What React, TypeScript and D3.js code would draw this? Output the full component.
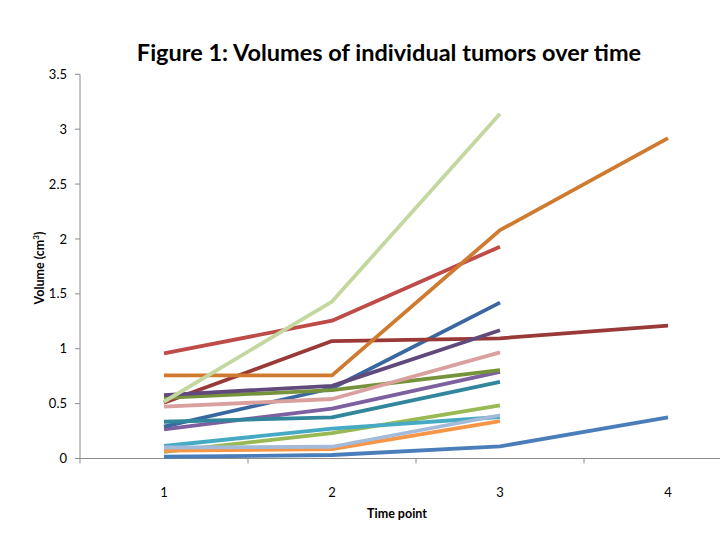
import React from 'react';
import * as d3 from 'd3';

const timePoints = [1, 2, 3, 4];
const yTicks = [0, 0.5, 1, 1.5, 2, 2.5, 3, 3.5];

// Volumes per tumor (cm³), one entry per time point measured
const tumor01 = [0.016, 0.032, 0.11, 0.375];
const tumor02 = [0.958, 1.255, 1.93];
const tumor03 = [0.06, 0.232, 0.485];
const tumor04 = [0.266, 0.455, 0.79];
const tumor05 = [0.114, 0.272, 0.378];
const tumor06 = [0.071, 0.086, 0.34];
const tumor07 = [0.29, 0.64, 1.42];
const tumor08 = [0.508, 1.07, 1.095, 1.21];
const tumor09 = [0.552, 0.622, 0.806];
const tumor10 = [0.578, 0.662, 1.168];
const tumor11 = [0.335, 0.374, 0.698];
const tumor12 = [0.758, 0.757, 2.08, 2.918];
const tumor13 = [0.1, 0.107, 0.394];
const tumor14 = [0.472, 0.542, 0.967];
const tumor15 = [0.517, 1.43, 3.14];

const seriesValues = [
  tumor01, tumor02, tumor03, tumor04, tumor05, tumor06, tumor07, tumor08,
  tumor09, tumor10, tumor11, tumor12, tumor13, tumor14, tumor15,
];

const seriesColors = [
  '#4a7ebb', '#be4b48', '#98b954', '#7d60a0', '#46aac5', '#f79646',
  '#3b67a0', '#9a3a38', '#76933c', '#604a7b', '#31869b', '#d07a2f',
  '#a3bbd9', '#d9a09e', '#c4d79f',
];

const W = 720;
const H = 540;
const font = 'Lato, "Open Sans", sans-serif';
const axisColor = '#8c8c8c';

export default function App() {
  const x = d3.scaleLinear().domain([0.5, 4.5]).range([80, 752]);
  const y = d3.scaleLinear().domain([0, 3.5]).range([458.5, 74.3]);

  const line = d3.line<number>()
    .x((_, i) => x(timePoints[i]))
    .y(d => y(d));

  // category boundaries get the tick marks (Excel style)
  const catEdges = [0.5, 1.5, 2.5, 3.5, 4.5];

  return (
    <svg
      width={W}
      height={H}
      style={{ position: 'absolute', left: 0, top: 0, background: '#fff', overflow: 'hidden' }}
    >
      <text
        x={389}
        y={61}
        textAnchor="middle"
        fontFamily={font}
        fontWeight="bold"
        fontSize={23.5}
        fill="#000"
      >
        Figure 1: Volumes of individual tumors over time
      </text>

      {/* y axis */}
      <line x1={80} x2={80} y1={y(3.5)} y2={y(0)} stroke={axisColor} strokeWidth={1} />
      {yTicks.map(t => (
        <g key={t}>
          <line x1={75} x2={80} y1={y(t)} y2={y(t)} stroke={axisColor} />
          <text
            x={67}
            y={y(t)}
            dy="0.35em"
            textAnchor="end"
            fontFamily={font}
            fontSize={13}
            fill="#000"
          >
            {t}
          </text>
        </g>
      ))}

      {/* x axis */}
      <line x1={80} x2={x(4.5)} y1={y(0)} y2={y(0)} stroke={axisColor} strokeWidth={1} />
      {catEdges.map(c => (
        <line key={c} x1={x(c)} x2={x(c)} y1={y(0)} y2={y(0) + 5} stroke={axisColor} />
      ))}
      {timePoints.map(t => (
        <text
          key={t}
          x={x(t)}
          y={492}
          dy="0.35em"
          textAnchor="middle"
          fontFamily={font}
          fontSize={13}
          fill="#000"
        >
          {t}
        </text>
      ))}

      <text
        x={397}
        y={514}
        dy="0.35em"
        textAnchor="middle"
        fontFamily={font}
        fontWeight="bold"
        fontSize={12.5}
        fill="#000"
      >
        Time point
      </text>
      <text
        transform="translate(44,268) rotate(-90)"
        textAnchor="middle"
        fontFamily={font}
        fontWeight="bold"
        fontSize={12.5}
        fill="#000"
      >
        Volume (cm<tspan dy="-5" fontSize={8}>3</tspan><tspan dy="5">)</tspan>
      </text>

      {seriesValues.map((vals, i) => (
        <path
          key={i}
          d={line(vals) || ''}
          fill="none"
          stroke={seriesColors[i]}
          strokeWidth={3.8}
          strokeLinejoin="round"
        />
      ))}
    </svg>
  );
}
